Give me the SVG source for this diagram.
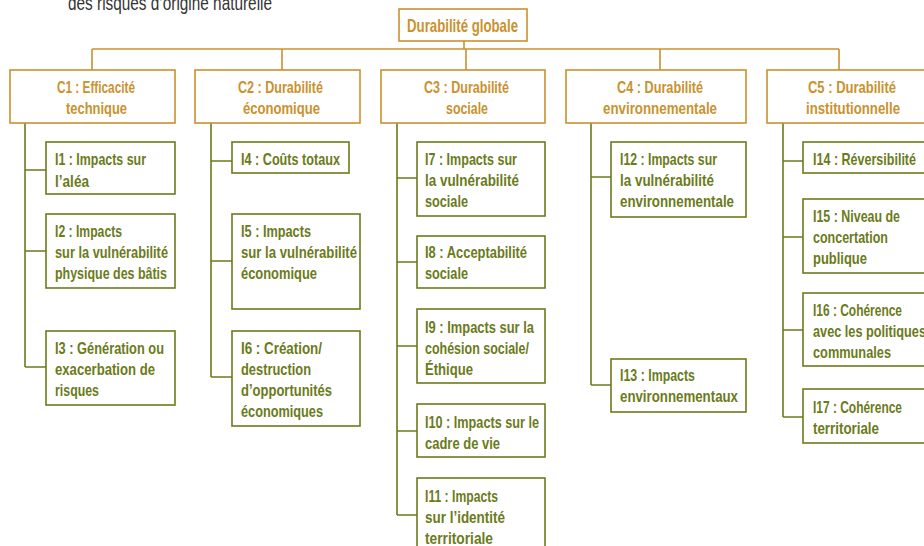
<svg xmlns="http://www.w3.org/2000/svg" width="924" height="546" viewBox="0 0 924 546">
<style>
text{font-family:"Liberation Sans Narrow","Liberation Sans",Arial,sans-serif;font-weight:bold;font-size:17px}
.g{fill:#C9922E}
.v{fill:#6B7B1B}
.bg{fill:#fff;stroke:#C9922E;stroke-width:1.6}
.bv{fill:#fff;stroke:#6B7B1B;stroke-width:1.6}
.lg{fill:none;stroke:#C9922E;stroke-width:1.6}
.lv{fill:none;stroke:#6B7B1B;stroke-width:1.6}
.h{fill:#333;font-weight:normal;font-size:20px}
</style>
<rect width="924" height="546" fill="#fff"/>
<text class="h" x="68" y="10" textLength="204" lengthAdjust="spacingAndGlyphs">des risques d’origine naturelle</text>
<g id="connectors">
<path class="lg" d="M464 41V49M92 49H839M92 49V70M282 49V70M466 49V70M660 49V70M839 49V70"/>
<path class="lv" d="M25 123V367M25 170H46M25 251H46M25 367H46"/>
<path class="lv" d="M211 123V377M211 161H232M211 261H232M211 377H232"/>
<path class="lv" d="M397 123V515M397 178H417M397 262H417M397 346H417M397 431H417M397 515H417"/>
<path class="lv" d="M591 123V385M591 177H611M591 385H611"/>
<path class="lv" d="M783 123V417M783 161H803M783 237H803M783 330H803M783 417H803"/>
</g>
<g id="root">
<rect class="bg" x="399" y="9" width="128" height="32"/>
<text class="g" x="407" y="32" style="font-size:18.5px" textLength="111" lengthAdjust="spacingAndGlyphs">Durabilité globale</text>
</g>
<g id="C1">
<rect class="bg" x="10" y="70" width="165" height="53"/>
<text class="g" x="57" y="93" textLength="78" lengthAdjust="spacingAndGlyphs">C1 : Efficacité</text>
<text class="g" x="66" y="114" textLength="61" lengthAdjust="spacingAndGlyphs">technique</text>
</g>
<g id="C2">
<rect class="bg" x="195" y="70" width="165" height="53"/>
<text class="g" x="238" y="93" textLength="85" lengthAdjust="spacingAndGlyphs">C2 : Durabilité</text>
<text class="g" x="243" y="114" textLength="77" lengthAdjust="spacingAndGlyphs">économique</text>
</g>
<g id="C3">
<rect class="bg" x="381" y="70" width="164" height="53"/>
<text class="g" x="424" y="93" textLength="85" lengthAdjust="spacingAndGlyphs">C3 : Durabilité</text>
<text class="g" x="446" y="114" textLength="42" lengthAdjust="spacingAndGlyphs">sociale</text>
</g>
<g id="C4">
<rect class="bg" x="566" y="70" width="180" height="53"/>
<text class="g" x="617" y="93" textLength="86" lengthAdjust="spacingAndGlyphs">C4 : Durabilité</text>
<text class="g" x="603" y="114" textLength="114" lengthAdjust="spacingAndGlyphs">environnementale</text>
</g>
<g id="C5">
<rect class="bg" x="767" y="70" width="175" height="53"/>
<text class="g" x="808" y="93" textLength="88" lengthAdjust="spacingAndGlyphs">C5 : Durabilité</text>
<text class="g" x="806" y="114" textLength="94" lengthAdjust="spacingAndGlyphs">institutionnelle</text>
</g>
<g id="I1">
<rect class="bv" x="46" y="142" width="129" height="52"/>
<text class="v" x="55" y="165" textLength="91" lengthAdjust="spacingAndGlyphs">I1 : Impacts sur</text>
<text class="v" x="55" y="187" textLength="34" lengthAdjust="spacingAndGlyphs">l’aléa</text>
</g>
<g id="I2">
<rect class="bv" x="46" y="214" width="129" height="74"/>
<text class="v" x="55" y="237" textLength="67" lengthAdjust="spacingAndGlyphs">I2 : Impacts</text>
<text class="v" x="55" y="258" textLength="113" lengthAdjust="spacingAndGlyphs">sur la vulnérabilité</text>
<text class="v" x="55" y="279" textLength="112" lengthAdjust="spacingAndGlyphs">physique des bâtis</text>
</g>
<g id="I3">
<rect class="bv" x="46" y="331" width="129" height="74"/>
<text class="v" x="55" y="354" textLength="109" lengthAdjust="spacingAndGlyphs">I3 : Génération ou</text>
<text class="v" x="55" y="375" textLength="100" lengthAdjust="spacingAndGlyphs">exacerbation de</text>
<text class="v" x="55" y="396" textLength="44" lengthAdjust="spacingAndGlyphs">risques</text>
</g>
<g id="I4">
<rect class="bv" x="232" y="142" width="117" height="31"/>
<text class="v" x="241" y="165" textLength="99" lengthAdjust="spacingAndGlyphs">I4 : Coûts totaux</text>
</g>
<g id="I5">
<rect class="bv" x="232" y="214" width="128" height="95"/>
<text class="v" x="241" y="237" textLength="70" lengthAdjust="spacingAndGlyphs">I5 : Impacts</text>
<text class="v" x="241" y="258" textLength="116" lengthAdjust="spacingAndGlyphs">sur la vulnérabilité</text>
<text class="v" x="241" y="279" textLength="76" lengthAdjust="spacingAndGlyphs">économique</text>
</g>
<g id="I6">
<rect class="bv" x="232" y="331" width="128" height="95"/>
<text class="v" x="241" y="354" textLength="81" lengthAdjust="spacingAndGlyphs">I6 : Création/</text>
<text class="v" x="241" y="375" textLength="70" lengthAdjust="spacingAndGlyphs">destruction</text>
<text class="v" x="241" y="396" textLength="91" lengthAdjust="spacingAndGlyphs">d’opportunités</text>
<text class="v" x="241" y="417" textLength="82" lengthAdjust="spacingAndGlyphs">économiques</text>
</g>
<g id="I7">
<rect class="bv" x="417" y="142" width="128" height="74"/>
<text class="v" x="425" y="165" textLength="92" lengthAdjust="spacingAndGlyphs">I7 : Impacts sur</text>
<text class="v" x="425" y="186" textLength="94" lengthAdjust="spacingAndGlyphs">la vulnérabilité</text>
<text class="v" x="425" y="207" textLength="43" lengthAdjust="spacingAndGlyphs">sociale</text>
</g>
<g id="I8">
<rect class="bv" x="417" y="236" width="128" height="52"/>
<text class="v" x="425" y="258" textLength="102" lengthAdjust="spacingAndGlyphs">I8 : Acceptabilité</text>
<text class="v" x="425" y="279" textLength="43" lengthAdjust="spacingAndGlyphs">sociale</text>
</g>
<g id="I9">
<rect class="bv" x="417" y="309" width="128" height="74"/>
<text class="v" x="425" y="333" textLength="109" lengthAdjust="spacingAndGlyphs">I9 : Impacts sur la</text>
<text class="v" x="425" y="354" textLength="104" lengthAdjust="spacingAndGlyphs">cohésion sociale/</text>
<text class="v" x="425" y="375" textLength="48" lengthAdjust="spacingAndGlyphs">Éthique</text>
</g>
<g id="I10">
<rect class="bv" x="417" y="404" width="128" height="53"/>
<text class="v" x="425" y="428" textLength="114" lengthAdjust="spacingAndGlyphs">I10 : Impacts sur le</text>
<text class="v" x="425" y="449" textLength="75" lengthAdjust="spacingAndGlyphs">cadre de vie</text>
</g>
<g id="I11">
<rect class="bv" x="417" y="478" width="128" height="80"/>
<text class="v" x="425" y="502" textLength="73" lengthAdjust="spacingAndGlyphs">I11 : Impacts</text>
<text class="v" x="425" y="523" textLength="80" lengthAdjust="spacingAndGlyphs">sur l’identité</text>
<text class="v" x="425" y="544" textLength="68" lengthAdjust="spacingAndGlyphs">territoriale</text>
</g>
<g id="I12">
<rect class="bv" x="611" y="142" width="135" height="75"/>
<text class="v" x="620" y="165" textLength="97" lengthAdjust="spacingAndGlyphs">I12 : Impacts sur</text>
<text class="v" x="620" y="186" textLength="94" lengthAdjust="spacingAndGlyphs">la vulnérabilité</text>
<text class="v" x="620" y="207" textLength="114" lengthAdjust="spacingAndGlyphs">environnementale</text>
</g>
<g id="I13">
<rect class="bv" x="611" y="359" width="135" height="53"/>
<text class="v" x="620" y="381" textLength="75" lengthAdjust="spacingAndGlyphs">I13 : Impacts</text>
<text class="v" x="620" y="402" textLength="118" lengthAdjust="spacingAndGlyphs">environnementaux</text>
</g>
<g id="I14">
<rect class="bv" x="803" y="142" width="135" height="31"/>
<text class="v" x="813" y="165" textLength="103" lengthAdjust="spacingAndGlyphs">I14 : Réversibilité</text>
</g>
<g id="I15">
<rect class="bv" x="803" y="199" width="135" height="74"/>
<text class="v" x="813" y="222" textLength="87" lengthAdjust="spacingAndGlyphs">I15 : Niveau de</text>
<text class="v" x="813" y="243" textLength="75" lengthAdjust="spacingAndGlyphs">concertation</text>
<text class="v" x="813" y="264" textLength="54" lengthAdjust="spacingAndGlyphs">publique</text>
</g>
<g id="I16">
<rect class="bv" x="803" y="293" width="135" height="73"/>
<text class="v" x="813" y="316" textLength="89" lengthAdjust="spacingAndGlyphs">I16 : Cohérence</text>
<text class="v" x="813" y="337" textLength="113" lengthAdjust="spacingAndGlyphs">avec les politiques</text>
<text class="v" x="813" y="358" textLength="78" lengthAdjust="spacingAndGlyphs">communales</text>
</g>
<g id="I17">
<rect class="bv" x="803" y="389" width="135" height="54"/>
<text class="v" x="813" y="413" textLength="89" lengthAdjust="spacingAndGlyphs">I17 : Cohérence</text>
<text class="v" x="813" y="434" textLength="66" lengthAdjust="spacingAndGlyphs">territoriale</text>
</g>
</svg>
